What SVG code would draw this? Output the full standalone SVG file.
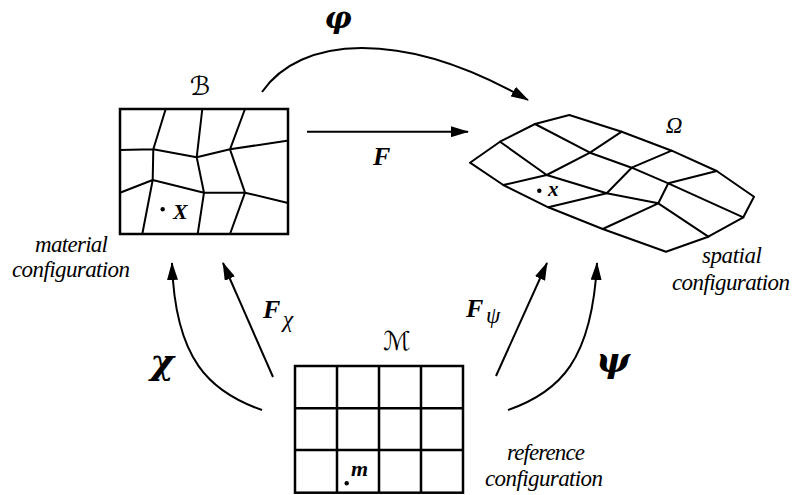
<svg xmlns="http://www.w3.org/2000/svg" width="794" height="495" viewBox="0 0 794 495">
<style>
.g{fill:none;stroke:#000;stroke-width:2;stroke-linejoin:round;stroke-linecap:round}
.b{fill:none;stroke:#000;stroke-width:2.5}
.c{fill:none;stroke:#000;stroke-width:2}
.cap{font-family:"Liberation Serif",serif;font-style:italic;font-size:23px}
.bi{font-family:"Liberation Serif",serif;font-style:italic;font-weight:bold}
.gr{font-family:"DejaVu Serif",serif;font-style:italic;font-weight:bold}
.scr{font-family:"DejaVu Serif","DejaVu Sans",serif;font-style:italic}
</style>
<defs>
<marker id="ah" viewBox="0 0 18 11" refX="17" refY="5.5" markerWidth="18" markerHeight="11" markerUnits="userSpaceOnUse" orient="auto">
<path d="M0,0 L18,5.5 L0,11 z" fill="#000"/>
</marker>
</defs>
<rect width="794" height="495" fill="#fff"/>

<g id="nodeB">
<rect class="b" x="120" y="109" width="168" height="125"/>
<path class="g" d="M165.7,109 L153.3,149.3 M202.3,109 L196.7,157.3 M245,109 L230,149.3 M120,150 L153.3,149.3 L196.7,157.3 L230,149.3 L287,140.7 M153.3,149.3 L152.7,180 M196.7,157.3 L204,192.7 M230,149.3 L245,192.7 M120,192.7 L152.7,180 L204,192.7 L245,192.7 L287,202.7 M152.7,180 L142.3,234 M204,192.7 L197.7,234 M245,192.7 L230,234"/>
<circle cx="162.7" cy="209.3" r="2.2"/>
<text class="bi" x="173" y="219" font-size="22">X</text>
<text class="scr" x="200" y="95" font-size="26" text-anchor="middle">ℬ</text>
<text class="cap" x="35" y="252" textLength="73" lengthAdjust="spacing">material</text>
<text class="cap" x="12" y="277" textLength="118" lengthAdjust="spacing">configuration</text>
</g>

<g id="nodeOmega">
<path class="g" d="M470,162.7 L500,141.7 L535,124 L569.3,115 L621.7,131.7 L671.7,150.7 L716.7,171 L754,196.7 L743.3,217.3 L708.3,236.7 L666,251.7 L602.7,229 L548.3,207.3 L503.3,185 Z"/>
<path class="g" d="M535,124 L590,152.7 L631.7,167.7 L668.3,183.3 L743.3,217.3 M500,141.7 L546.7,175 L606.7,193.3 L658.3,203.3 L708.3,236.7 M503.3,185 L546.7,175 L590,152.7 L621.7,131.7 M548.3,207.3 L606.7,193.3 L631.7,167.7 L671.7,150.7 M602.7,229 L658.3,203.3 L668.3,183.3 L716.7,171"/>
<circle cx="539.3" cy="190.7" r="2.2"/>
<text class="bi" x="548" y="196" font-size="21">x</text>
<text class="cap" x="674" y="133" font-size="28" text-anchor="middle">Ω</text>
<text class="cap" x="702" y="263" textLength="60" lengthAdjust="spacing">spatial</text>
<text class="cap" x="672" y="290" textLength="118" lengthAdjust="spacing">configuration</text>
</g>

<g id="nodeM">
<rect class="b" x="295" y="366" width="168" height="126.7"/>
<path class="b" d="M337,366 V492.7 M379,366 V492.7 M421,366 V492.7 M295,408.3 H463 M295,450 H463"/>
<circle cx="346.7" cy="483.3" r="2.2"/>
<text class="bi" x="351" y="476" font-size="22">m</text>
<text class="scr" x="397" y="350" font-size="26" text-anchor="middle">ℳ</text>
<text class="cap" x="507" y="460" textLength="78" lengthAdjust="spacing">reference</text>
<text class="cap" x="485" y="486" textLength="118" lengthAdjust="spacing">configuration</text>
</g>

<g id="connectors">
<path class="c" d="M262,92 C300,37 400,27 528,100" marker-end="url(#ah)"/>
<path class="c" d="M307,131.7 L468,131.7" marker-end="url(#ah)"/>
<path class="c" d="M273,377 L223,263" marker-end="url(#ah)"/>
<path class="c" d="M496,376 L547,263" marker-end="url(#ah)"/>
<path class="c" d="M262,410 C210,392 175,360 172,263" marker-end="url(#ah)"/>
<path class="c" d="M508,410 C560,392 592,360 597,263" marker-end="url(#ah)"/>
</g>

<g id="labels">
<text class="gr" x="338" y="28" font-size="30" text-anchor="middle">φ</text>
<text class="bi" x="373" y="165" font-size="26">F</text>
<text class="bi" x="263" y="318" font-size="26">F</text>
<text class="cap" x="283" y="327" font-size="20">χ</text>
<text class="bi" x="466" y="317" font-size="26">F</text>
<text class="cap" x="486" y="323" font-size="20">ψ</text>
<text class="gr" x="162" y="374" font-size="36" text-anchor="middle">χ</text>
<text class="gr" x="613" y="372" font-size="36" text-anchor="middle">ψ</text>
</g>
</svg>
